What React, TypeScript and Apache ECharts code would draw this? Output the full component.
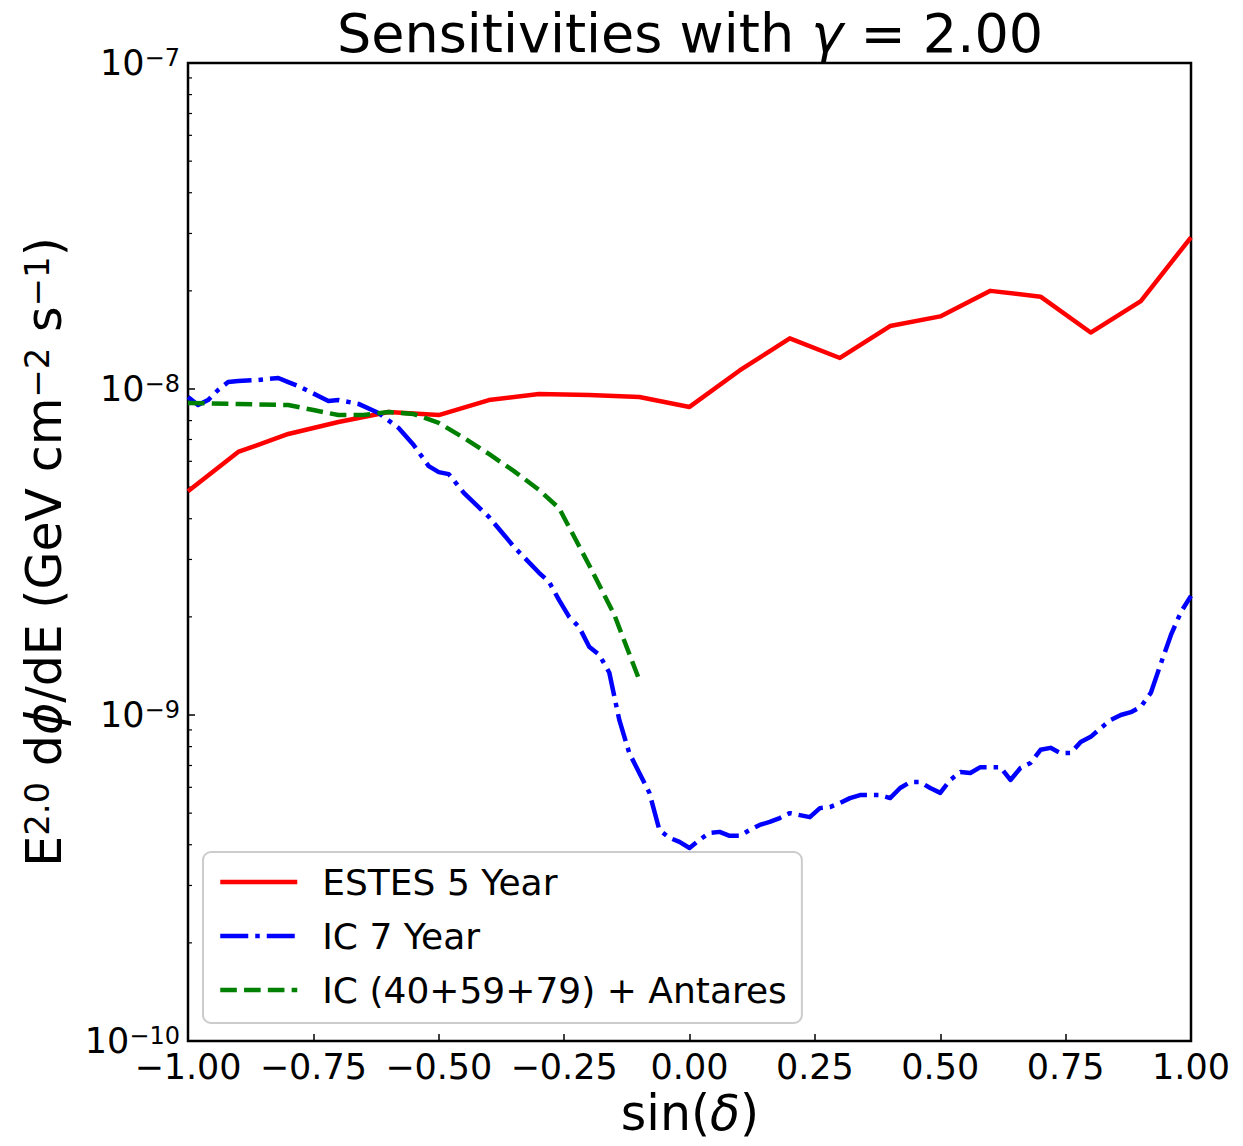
import React, { useEffect, useRef } from "react";
import * as echarts from "echarts";

// ---- Data ----
const estesX = [-1.0, -0.9, -0.8, -0.7, -0.6, -0.5, -0.4, -0.3, -0.2, -0.1, 0.0, 0.1, 0.2, 0.3, 0.4, 0.5, 0.6, 0.7, 0.8, 0.9, 1.0];
const estesY = [4.86e-9, 6.41e-9, 7.28e-9, 7.92e-9, 8.5e-9, 8.32e-9, 9.25e-9, 9.65e-9, 9.58e-9, 9.45e-9, 8.81e-9, 1.14e-8, 1.43e-8, 1.245e-8, 1.56e-8, 1.67e-8, 2.0e-8, 1.92e-8, 1.49e-8, 1.86e-8, 2.92e-8];

const ic7X = [-1.0, -0.98, -0.96, -0.94, -0.92, -0.9, -0.86, -0.82, -0.8, -0.78, -0.74, -0.72, -0.7, -0.66, -0.62, -0.58, -0.55, -0.52, -0.5, -0.48, -0.45, -0.4, -0.35, -0.3, -0.28, -0.26, -0.24, -0.22, -0.2, -0.18, -0.16, -0.14, -0.12, -0.1, -0.08, -0.06, -0.04, -0.02, 0.0,
  0.02, 0.04, 0.06, 0.08, 0.1, 0.12, 0.14, 0.16, 0.18, 0.2, 0.22, 0.24, 0.26, 0.28, 0.3, 0.32, 0.34, 0.36, 0.38, 0.4, 0.42, 0.44, 0.46, 0.48, 0.5,
  0.52, 0.54, 0.56, 0.58, 0.6, 0.62, 0.64, 0.66, 0.68, 0.7, 0.72, 0.74, 0.76, 0.78, 0.8, 0.82, 0.84, 0.86, 0.88, 0.9, 0.92, 0.94, 0.96, 0.98, 1.0];
const ic7Y = [9.45e-9, 8.93e-9, 9.25e-9, 9.93e-9, 1.05e-8, 1.058e-8, 1.066e-8, 1.081e-8, 1.05e-8, 1.021e-8, 9.52e-9, 9.19e-9, 9.25e-9, 9.0e-9, 8.44e-9, 7.59e-9, 6.73e-9, 5.8e-9, 5.56e-9, 5.48e-9, 4.8e-9, 4.05e-9, 3.28e-9, 2.73e-9, 2.56e-9, 2.25e-9, 2.0e-9, 1.86e-9, 1.62e-9, 1.53e-9, 1.35e-9, 9.66e-10, 7.64e-10, 6.64e-10, 5.77e-10, 4.44e-10, 4.2e-10, 4.08e-10, 3.91e-10,
  4.14e-10, 4.35e-10, 4.38e-10, 4.26e-10, 4.26e-10, 4.44e-10, 4.6e-10, 4.7e-10, 4.83e-10, 5.0e-10, 4.93e-10, 4.86e-10, 5.18e-10, 5.22e-10, 5.37e-10, 5.56e-10, 5.68e-10, 5.68e-10, 5.68e-10, 5.56e-10, 5.97e-10, 6.23e-10, 6.23e-10, 5.97e-10, 5.77e-10,
  6.32e-10, 6.69e-10, 6.64e-10, 6.92e-10, 6.92e-10, 6.92e-10, 6.32e-10, 6.88e-10, 7.13e-10, 7.82e-10, 7.93e-10, 7.64e-10, 7.64e-10, 8.26e-10, 8.57e-10, 9.12e-10, 9.66e-10, 1.0e-9, 1.02e-9, 1.06e-9, 1.17e-9, 1.44e-9, 1.76e-9, 2.07e-9, 2.32e-9];

const antX = [-1.0, -0.9, -0.8, -0.75, -0.7, -0.65, -0.6, -0.55, -0.5, -0.45, -0.4, -0.35, -0.3, -0.26, -0.2, -0.15, -0.1];
const antY = [9.06e-9, 8.99e-9, 8.93e-9, 8.62e-9, 8.32e-9, 8.32e-9, 8.5e-9, 8.38e-9, 7.87e-9, 7.08e-9, 6.32e-9, 5.6e-9, 4.9e-9, 4.31e-9, 2.88e-9, 2.03e-9, 1.28e-9];

const seriesNames = ["ESTES 5 Year", "IC 7 Year", "IC (40+59+79) + Antares"];
const xTickMin = -1;
const xTickMax = 1;
const xTickStep = 0.25;
const yMin = 1e-10;
const yMax = 1e-7;
const minorMantissas = [2, 3, 4, 5, 6, 7, 8, 9];
const minorDecades = [-10, -9, -8];

const zip = (xs: number[], ys: number[]) => xs.map((x, i) => [x, ys[i]]);

const FONT = "DejaVu Sans";

export default function App() {
  const ref = useRef<HTMLDivElement>(null);
  useEffect(() => {
    if (!ref.current) return;
    const chart = echarts.init(ref.current, undefined, { renderer: "svg" });
    const minorTicks: number[][] = [];
    minorDecades.forEach((d) => minorMantissas.forEach((m) => minorTicks.push([xTickMin, m * Math.pow(10, d)])));

    const option: any = {
      animation: false,
      backgroundColor: "#ffffff",
      textStyle: { fontFamily: FONT },
      grid: {
        left: 188, right: 52, top: 63, bottom: 105,
        show: true, borderColor: "#000", borderWidth: 2.5, backgroundColor: "transparent",
      },
      xAxis: {
        type: "value", min: xTickMin, max: xTickMax, interval: xTickStep,
        axisLine: { show: false, onZero: false },
        axisTick: { show: true, inside: true, length: 7, lineStyle: { color: "#000", width: 1.5 } },
        splitLine: { show: false },
        axisLabel: {
          color: "#000", fontSize: 35, fontFamily: FONT, margin: 8,
          formatter: (v: number) => (v < 0 ? "\u2212" : "") + Math.abs(v).toFixed(2),
        },
      },
      yAxis: {
        type: "log", logBase: 10, min: yMin, max: yMax,
        axisLine: { show: false, onZero: false },
        axisTick: { show: true, inside: true, length: 7, lineStyle: { color: "#000", width: 1.5 } },
        splitLine: { show: false },
        axisLabel: {
          margin: 8,
          formatter: (v: number) => {
            const e = Math.round(Math.log10(v));
            return "{b|10}{s|\u2212" + Math.abs(e) + "}";
          },
          rich: {
            b: { fontSize: 35, fontFamily: FONT, color: "#000", lineHeight: 35 },
            s: { fontSize: 24, fontFamily: FONT, color: "#000", lineHeight: 18, verticalAlign: "top" },
          },
        },
      },
      legend: {
        data: seriesNames,
        orient: "vertical",
        left: 203, top: 852,
        itemWidth: 77, itemHeight: 20, itemGap: 14,
        padding: [10, 15, 13, 15],
        borderColor: "#cccccc", borderWidth: 2, borderRadius: 8,
        backgroundColor: "rgba(255,255,255,0.8)",
        itemStyle: { opacity: 0 },
        lineStyle: { width: 4.5 },
        textStyle: { fontSize: 36, fontFamily: FONT, color: "#000", lineHeight: 40, padding: [0, 0, 0, 20] },
      },
      graphic: [
        {
          type: "text", x: 690, y: 33,
          style: {
            text: "Sensitivities with {i|\u03b3} = 2.00",
            fontSize: 54, fontFamily: FONT, fill: "#000", align: "center", verticalAlign: "middle",
            rich: { i: { fontSize: 54, fontFamily: FONT, fontStyle: "italic", fill: "#000" } },
          },
        },
        {
          type: "text", x: 690, y: 1113,
          style: {
            text: "sin({i|\u03b4})",
            fontSize: 49, fontFamily: FONT, fill: "#000", align: "center", verticalAlign: "middle",
            rich: { i: { fontSize: 49, fontFamily: FONT, fontStyle: "italic", fill: "#000" } },
          },
        },
        {
          type: "text", x: 44, y: 552, rotation: Math.PI / 2,
          style: {
            text: "{b|E}{s|2.0}{b| d}{i|\u03d5}{b|/dE (GeV cm}{s|\u22122}{b| s}{s|\u22121}{b|)}",
            fontSize: 49, fontFamily: FONT, fill: "#000", align: "center", verticalAlign: "middle",
            rich: {
              b: { fontSize: 49, fontFamily: FONT, fill: "#000", lineHeight: 49 },
              i: { fontSize: 49, fontFamily: FONT, fontStyle: "italic", fill: "#000", lineHeight: 49 },
              s: { fontSize: 34, fontFamily: FONT, fill: "#000", lineHeight: 20, verticalAlign: "top" },
            },
          },
        },
      ],
      series: [
        {
          name: seriesNames[0], type: "line", data: zip(estesX, estesY),
          showSymbol: false, symbol: "none", color: "#ff0000",
          lineStyle: { color: "#ff0000", width: 4.5, cap: "butt", join: "round" },
          z: 3,
        },
        {
          name: seriesNames[1], type: "line", data: zip(ic7X, ic7Y),
          showSymbol: false, symbol: "none", color: "#0000ff",
          lineStyle: { color: "#0000ff", width: 4.5, type: [28, 7, 4.5, 7], cap: "butt", join: "round" },
          z: 3,
        },
        {
          name: seriesNames[2], type: "line", data: zip(antX, antY),
          showSymbol: false, symbol: "none", color: "#008000",
          lineStyle: { color: "#008000", width: 4.5, type: [16.6, 7.2], cap: "butt", join: "round" },
          z: 3,
        },
        {
          name: "minorTicks", type: "custom", data: minorTicks, silent: true, clip: false,
          encode: { x: 0, y: 1 },
          renderItem: (params: any, api: any) => {
            const p = api.coord([api.value(0), api.value(1)]);
            return {
              type: "line",
              shape: { x1: p[0], y1: p[1], x2: p[0] + 4, y2: p[1] },
              style: { stroke: "#000", lineWidth: 1.2 },
            };
          },
          z: 2,
        },
      ],
    };
    chart.setOption(option);
    return () => chart.dispose();
  }, []);
  return <div ref={ref} style={{ position: "absolute", left: 0, top: 0, width: 1243, height: 1146 }} />;
}
